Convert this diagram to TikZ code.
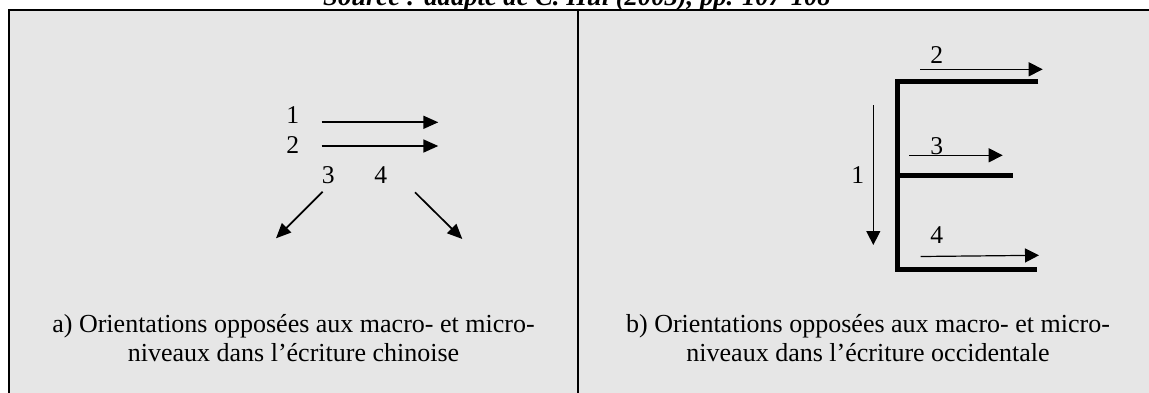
\documentclass[tikz,border=0pt]{standalone}
\usepackage{fontspec}
\setmainfont{Liberation Serif}
\usetikzlibrary{arrows.meta}
\definecolor{cellgray}{RGB}{230,230,230}
\tikzset{
  lbl/.style={inner sep=0pt, font=\fontsize{12.8}{15}\selectfont},
  captext/.style={inner sep=0pt, anchor=base, font=\fontsize{13}{15.3}\selectfont},
  thickarrow/.style={line width=0.85pt, -{Triangle[length=7.5pt,width=6.5pt]}},
  thinarrow/.style={line width=0.6pt, -{Triangle[length=7pt,width=7pt]}},
  estroke/.style={line width=2.5pt},
  frame/.style={line width=1pt}
}
\begin{document}
\begin{tikzpicture}[x=0.5pt,y=-0.5pt]
\useasboundingbox (0,0) rectangle (1149,392);
\clip (0,0) rectangle (1149,392);
% background cells
\fill[cellgray] (9,10) rectangle (1160,400);
\draw[frame] (9,400) -- (9,10) -- (1160,10);
\draw[frame] (578,10) -- (578,400);
% title (cut off at top, as in the reference)
\node[captext, font=\fontsize{13.3}{15.5}\selectfont\bfseries\itshape] (title) at (577,5) {Source : adapté de C. Hui (2003), pp. 107-108};
% ---------- left diagram ----------
\node[lbl] (n1a) at (292.7,115) {1};
\node[lbl] (n2a) at (292.7,145) {2};
\node[lbl] (n3a) at (328.3,175) {3};
\node[lbl] (n4a) at (380.7,175) {4};
\coordinate (a1s) at (321.7,122.3); \coordinate (a1e) at (438.3,122.3);
\coordinate (a2s) at (321.7,146);   \coordinate (a2e) at (438.3,146);
\coordinate (a3s) at (322.7,191.7); \coordinate (a3e) at (276,238.3);
\coordinate (a4s) at (415,192.3);   \coordinate (a4e) at (462.3,239);
\draw[thickarrow] (a1s) -- (a1e);
\draw[thickarrow] (a2s) -- (a2e);
\draw[thickarrow] (a3s) -- (a3e);
\draw[thickarrow] (a4s) -- (a4e);
\node[captext] (capA1) at (293.5,332.3) {a) Orientations opposées aux macro- et micro-};
\node[captext] (capA2) at (293.5,361.7) {niveaux dans l’écriture chinoise};
% ---------- right diagram ----------
\coordinate (eTop) at (1038.3,81.7);
\coordinate (eTL) at (897.7,81.7);
\coordinate (eBL) at (897.7,269);
\coordinate (eBot) at (1037.3,269);
\coordinate (eMidL) at (897.7,175.7);
\coordinate (eMid) at (1013.3,175.7);
\draw[estroke] (eTop) -- (eTL) -- (eBL) -- (eBot);
\draw[estroke] (eMidL) -- (eMid);
\node[lbl] (n2b) at (936.7,55) {2};
\node[lbl] (n3b) at (936.7,146) {3};
\node[lbl] (n4b) at (936.7,235) {4};
\node[lbl] (n1b) at (857.7,175) {1};
\coordinate (b2s) at (920,69.3);   \coordinate (b2e) at (1042.7,69.3);
\coordinate (b3s) at (909.3,155.3); \coordinate (b3e) at (1002.7,155.3);
\coordinate (b4s) at (920.7,256.5); \coordinate (b4e) at (1039,255.3);
\coordinate (b1s) at (873.3,105);  \coordinate (b1e) at (873.3,245);
\draw[thinarrow] (b2s) -- (b2e);
\draw[thinarrow] (b3s) -- (b3e);
\draw[thinarrow] (b4s) -- (b4e);
\draw[thinarrow] (b1s) -- (b1e);
\node[captext] (capB1) at (868,332.3) {b) Orientations opposées aux macro- et micro-};
\node[captext] (capB2) at (868,361.7) {niveaux dans l’écriture occidentale};
\end{tikzpicture}
\end{document}
